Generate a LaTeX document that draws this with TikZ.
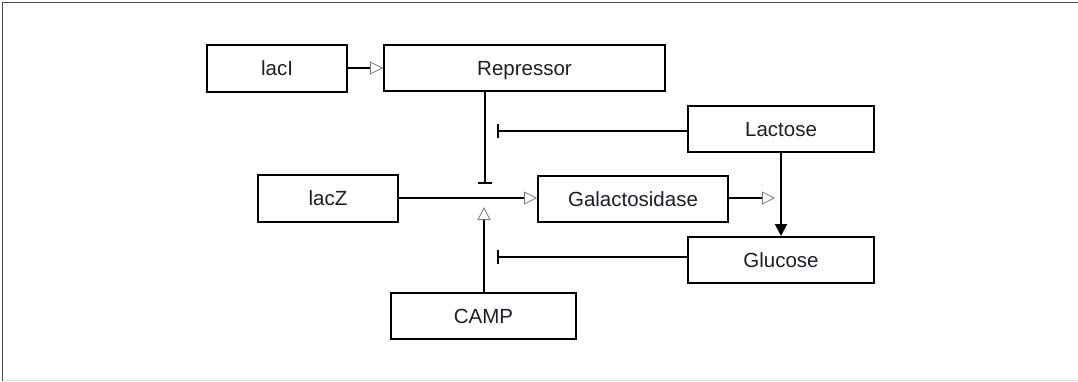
\documentclass[tikz,border=0pt]{standalone}
\usepackage{fontspec}
\setmainfont{Liberation Sans}
\usetikzlibrary{arrows.meta}
\definecolor{txt}{RGB}{28,30,42}
\definecolor{tipgray}{RGB}{120,120,120}
\begin{document}
\begin{tikzpicture}[x=1pt,y=-1pt,
  box/.style={draw, line width=2pt, inner sep=0pt, font=\fontsize{20.5}{24}\selectfont, text=txt, text depth=0pt},
  conn/.style={line width=2pt},
  act/.style={conn, -{Triangle[open, length=13pt, width=13pt, line width=0.8pt, color=tipgray]}},
  hit/.style={conn, -{Triangle[length=12pt, width=12pt]}},
  inh/.style={conn, -{Bar[width=14pt, line width=1.6pt]}}]
\useasboundingbox (0,0) rectangle (1078,381);
\fill[white] (0,0) rectangle (1078,381);
\draw[line width=1.5pt, black!70] (2.5,381) -- (2.5,2.5) -- (1078,2.5);
\draw[line width=1pt, black!12] (2.5,380) -- (1078,380);

\node[box, minimum width=140pt, minimum height=47pt] (lacI) at (277,68.5) {lacI};
\node[box, minimum width=281pt, minimum height=46pt] (Rep) at (524.5,68) {Repressor};
\node[box, minimum width=186pt, minimum height=46pt] (Lac) at (781,129) {Lactose};
\node[box, minimum width=140pt, minimum height=47pt] (lacZ) at (328,198.5) {lacZ};
\node[box, minimum width=190pt, minimum height=46pt] (Gal) at (633,199) {Galactosidase};
\node[box, minimum width=186pt, minimum height=46pt] (Glu) at (781,260) {Glucose};
\node[box, minimum width=185pt, minimum height=46pt] (CAMP) at (483.5,316) {CAMP};

\coordinate (rbar) at (485,184);
\coordinate (lbar) at (497,131);
\coordinate (gend) at (775,198);
\coordinate (gbar) at (497,257);
\coordinate (ctip) at (484,207);

\draw[act] (lacI.east |- Rep.west) -- (Rep.west);
\draw[inh] (Rep.south -| rbar) -- (rbar);
\draw[inh] (Lac.west |- lbar) -- (lbar);
\draw[act] (lacZ.east |- gend) -- (Gal.west |- gend);
\draw[act] (Gal.east |- gend) -- (gend);
\draw[hit] (Lac.south) -- (Glu.north);
\draw[inh] (Glu.west |- gbar) -- (gbar);
\draw[act] (CAMP.north -| ctip) -- (ctip);
\end{tikzpicture}
\end{document}
